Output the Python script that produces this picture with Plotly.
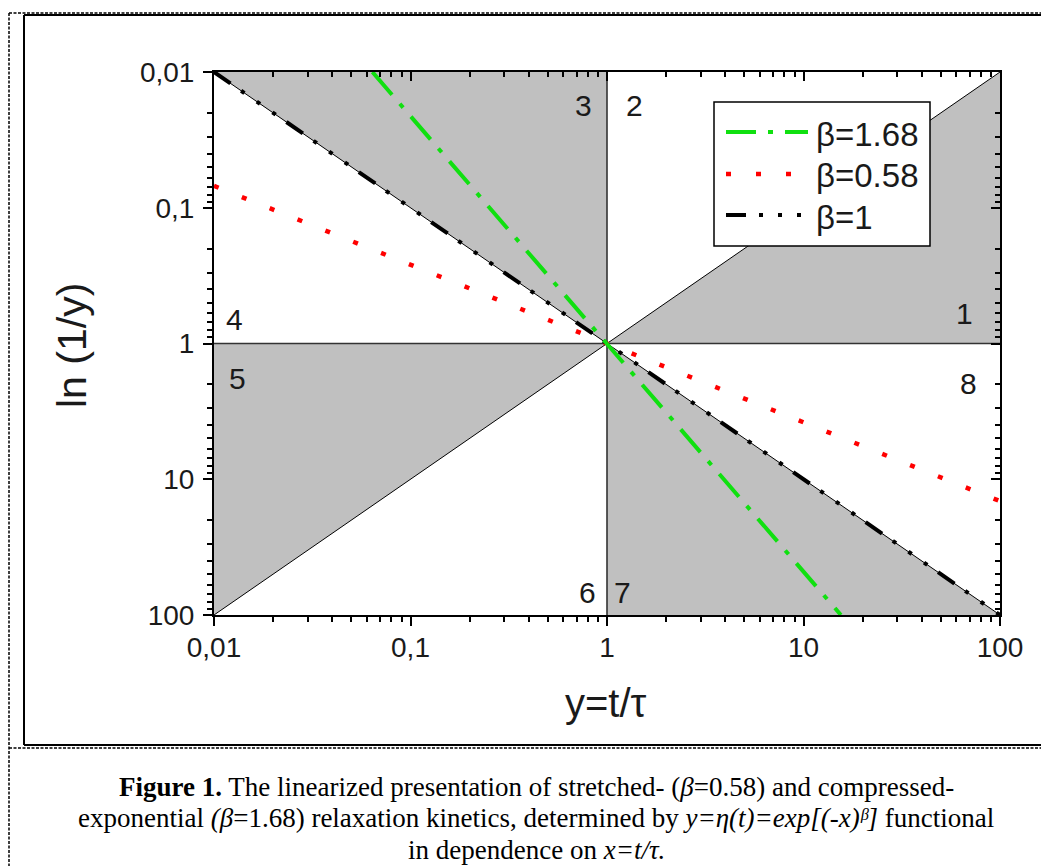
import plotly.graph_objects as go

# ---------------- data ----------------
beta_labels = ["β=1.68", "β=0.58", "β=1"]

x_b168 = [0.064, 1.0, 15.5]
y_b168 = [0.01, 1.0, 100.0]

x_b058 = [0.01, 1.0, 100.0]
y_b058 = [0.069, 1.0, 14.5]

x_b1 = [0.01, 1.0, 100.0]
y_b1 = [0.01, 1.0, 100.0]

# grey sectors (regions 3, 1, 5, 7), separated by None
sector_x = [0.01, 1, 1, None, 1, 100, 100, None, 0.01, 1, 0.01, None, 1, 1, 100]
sector_y = [0.01, 0.01, 1, None, 1, 0.01, 1, None, 1, 1, 100, None, 1, 100, 100]

diag1_x = [0.01, 100]
diag1_y = [0.01, 100]
diag2_x = [0.01, 100]
diag2_y = [100, 0.01]
vline_x = [1, 1]
vline_y = [0.01, 100]
hline_x = [0.01, 100]
hline_y = [1, 1]

major_ticks = [0.01, 0.1, 1, 10, 100]
major_labels = ["0,01", "0,1", "1", "10", "100"]
minor_ticks = [m * d for d in [0.01, 0.1, 1, 10] for m in range(2, 10)]

region_labels = ["1", "2", "3", "4", "5", "6", "7", "8"]

caption_lines = [
    "<b>Figure 1.</b> The linearized presentation of stretched- (<i>β</i>=0.58) and compressed-",
    "exponential <i>(β</i>=1.68) relaxation kinetics, determined by "
    "<i>y=η(t)=exp[(-x)ᵝ]</i> functional",
    "in dependence on <i>x=t/τ.</i>",
]

# ---------------- layout helpers (page pixel -> paper) ----------------
OFF = 8                      # default body margin of the html page
PW, PH = 1049, 866           # page size
L, R, T, B = 214, 1000, 72, 615   # plot area in page pixels
W, H = PW - OFF, PH - OFF


def px(v):
    return (v - L) / (R - L)


def py(v):
    return (B - v) / (B - T)


FONT = "Liberation Sans, Arial, sans-serif"
TXT = "#1a1a1a"

fig = go.Figure()

fig.add_trace(go.Scatter(x=sector_x, y=sector_y, mode="none", fill="toself",
                         fillcolor="#c0c0c0", showlegend=False, hoverinfo="skip"))
for xs, ys in [(diag1_x, diag1_y), (diag2_x, diag2_y)]:
    fig.add_trace(go.Scatter(x=xs, y=ys, mode="lines", line=dict(color="black", width=1),
                             showlegend=False, hoverinfo="skip"))
for xs, ys in [(vline_x, vline_y), (hline_x, hline_y)]:
    fig.add_trace(go.Scatter(x=xs, y=ys, mode="lines", line=dict(color="#333333", width=1.6),
                             showlegend=False, hoverinfo="skip"))

DASH_G = "30px,12px,5px,12px"
DASH_R = "5px,25px"
DASH_K = "20px,13px,4px,15px,4px,15px,4px,13px"
COL_G = "#10e010"
COL_R = "#ff0000"

fig.add_trace(go.Scatter(x=x_b058, y=y_b058, mode="lines", name=beta_labels[1],
                         line=dict(color=COL_R, width=4.5, dash=DASH_R), showlegend=False))
fig.add_trace(go.Scatter(x=x_b1, y=y_b1, mode="lines", name=beta_labels[2],
                         line=dict(color="black", width=4, dash=DASH_K), showlegend=False))
fig.add_trace(go.Scatter(x=x_b168, y=y_b168, mode="lines", name=beta_labels[0],
                         line=dict(color=COL_G, width=4, dash=DASH_G), showlegend=False))

# dummy trace for mirrored (inside-tick) axes
fig.add_trace(go.Scatter(x=[1], y=[1], xaxis="x2", yaxis="y2", mode="markers",
                         marker=dict(opacity=0), showlegend=False, hoverinfo="skip"))

tickfont = dict(family=FONT, size=28, color=TXT)
common = dict(type="log", tickmode="array", tickvals=major_ticks, ticktext=major_labels,
              showgrid=False, zeroline=False)

fig.update_layout(
    width=W, height=H, autosize=False,
    margin=dict(l=L - OFF, r=W - (R - OFF), t=T - OFF, b=H - (B - OFF)),
    paper_bgcolor="white", plot_bgcolor="white",
    showlegend=False,
    xaxis=dict(**common, range=[-2, 2], showline=True, linecolor="black", linewidth=2,
               mirror=True, ticks="outside", ticklen=9, tickwidth=1.5, tickcolor="black",
               tickfont=tickfont, ticklabelstandoff=-3,
               minor=dict(tickmode="array", tickvals=minor_ticks, ticks="outside",
                          ticklen=5, tickwidth=1.5, tickcolor="black")),
    yaxis=dict(**common, range=[2, -2], showline=True, linecolor="black", linewidth=2,
               mirror=True, ticks="outside", ticklen=9, tickwidth=1.5, tickcolor="black",
               tickfont=tickfont, ticklabelstandoff=3,
               minor=dict(tickmode="array", tickvals=minor_ticks, ticks="outside",
                          ticklen=5, tickwidth=1.5, tickcolor="black")),
    xaxis2=dict(**common, range=[-2, 2], overlaying="x", side="top", anchor="y2",
                ticks="inside", ticklen=9, tickwidth=1.5, tickcolor="black",
                showticklabels=False, showline=False,
                minor=dict(tickmode="array", tickvals=minor_ticks, ticks="inside",
                           ticklen=5, tickwidth=1.5, tickcolor="black")),
    yaxis2=dict(**common, range=[2, -2], overlaying="y", side="right", anchor="x2",
                ticks="inside", ticklen=9, tickwidth=1.5, tickcolor="black",
                showticklabels=False, showline=False,
                minor=dict(tickmode="array", tickvals=minor_ticks, ticks="inside",
                           ticklen=5, tickwidth=1.5, tickcolor="black")),
)

ann = []
# axis titles
ann.append(dict(text="ln (1/y)", x=px(72), y=py(346), xref="paper", yref="paper",
                textangle=-90, showarrow=False, xanchor="center", yanchor="middle",
                font=dict(family=FONT, size=41, color=TXT)))
ann.append(dict(text="y=t/τ", x=px(606), y=py(703), xref="paper", yref="paper",
                showarrow=False, xanchor="center", yanchor="middle",
                font=dict(family=FONT, size=40, color=TXT)))
# region numbers
region_pos = {"1": (964, 311), "2": (634, 104), "3": (583, 104), "4": (234, 317),
              "5": (237, 376), "6": (587, 590), "7": (622, 590), "8": (968, 381)}
for lab in region_labels:
    cx, cy = region_pos[lab]
    ann.append(dict(text=lab, x=px(cx), y=py(cy + 2), xref="paper", yref="paper",
                    showarrow=False, xanchor="center", yanchor="middle",
                    font=dict(family=FONT, size=30, color=TXT)))
# legend texts
leg_rows = [132, 174, 215]
for lab, ry in zip(beta_labels, leg_rows):
    ann.append(dict(text=lab, x=px(814), y=py(ry + 2), xref="paper", yref="paper",
                    showarrow=False, xanchor="left", yanchor="middle",
                    font=dict(family=FONT, size=33, color=TXT)))
# caption, one annotation per line
for line, cy in zip(caption_lines, [787, 818.5, 850]):
    ann.append(dict(text=line, x=px(536), y=py(cy), xref="paper", yref="paper",
                    showarrow=False, xanchor="center", yanchor="middle", align="center",
                    font=dict(family="Liberation Serif, Times New Roman, serif", size=27,
                              color="black")))
fig.update_layout(annotations=ann)

shapes = []
# legend box and samples
shapes.append(dict(type="rect", xref="paper", yref="paper", x0=px(714), x1=px(930),
                   y0=py(246), y1=py(102), fillcolor="white",
                   line=dict(color="black", width=1.5), layer="above"))
for (col, dash, w), ry in zip([(COL_G, DASH_G, 4), (COL_R, DASH_R, 4.5), ("black", DASH_K, 4)],
                              leg_rows):
    shapes.append(dict(type="line", xref="paper", yref="paper", x0=px(726), x1=px(808),
                       y0=py(ry), y1=py(ry), line=dict(color=col, width=w, dash=dash),
                       layer="above"))
# page frames
solid = dict(color="black", width=2)
dashed = dict(color="black", width=1.5, dash="3px,1.5px")
frame = [
    (9, 13, 1048, 13, dashed), (9, 13, 9, 866, dashed), (9, 748, 1049, 748, dashed),
    (24, 15, 1048, 15, solid), (24, 15, 24, 745, solid), (1048, 15, 1048, 745, solid),
    (24, 745, 1048, 745, solid),
]
for x0, y0, x1, y1, ln in frame:
    shapes.append(dict(type="line", xref="paper", yref="paper", x0=px(x0), x1=px(x1),
                       y0=py(y0), y1=py(y1), line=ln, layer="above"))
fig.update_layout(shapes=shapes)

fig.write_html("out.html")
